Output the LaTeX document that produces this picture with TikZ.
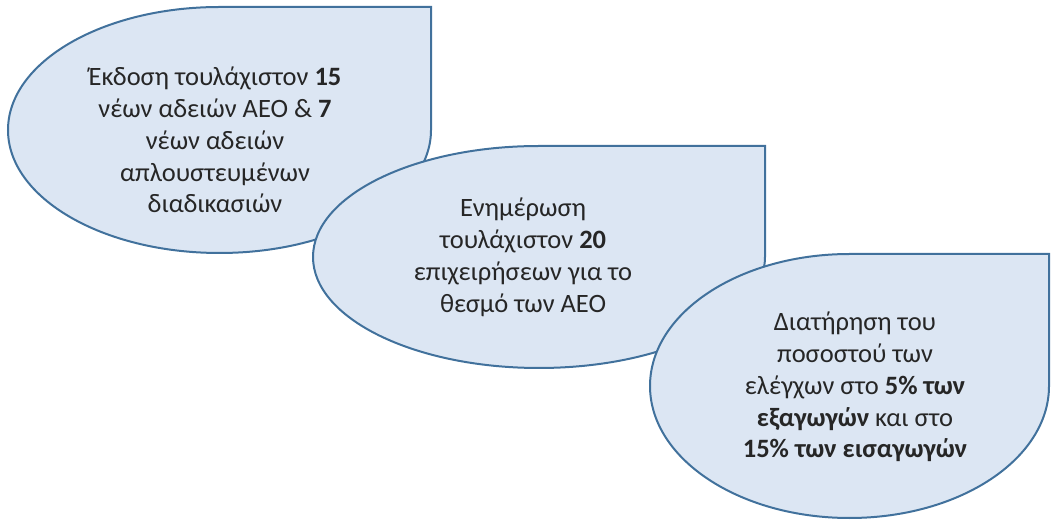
\documentclass[tikz,border=0pt]{standalone}
\usepackage{fontspec}
\setmainfont{Carlito}
\definecolor{tfill}{HTML}{DCE6F3}
\definecolor{tline}{HTML}{41719C}
\definecolor{ttext}{HTML}{262626}
\begin{document}
\begin{tikzpicture}[x=1pt,y=1pt,
  drop/.style={fill=tfill,draw=tline,line width=2pt,line join=miter},
  lbl/.style={align=center,text=ttext,font=\fontsize{26.5}{31.8}\selectfont,inner sep=0pt}]
\useasboundingbox (0,0) rectangle (1051,519);
% shape 1: left 8, right 431, top 7, cy 130
\draw[drop] (219.5,512) -- (431,512) -- (431,389) arc[start angle=0,end angle=-270,x radius=211.5,y radius=123] -- cycle;
% shape 2: left 313, right 765, top 146, cy 257
\draw[drop] (539,373) -- (765,373) -- (765,262) arc[start angle=0,end angle=-270,x radius=226,y radius=111] -- cycle;
% shape 3: left 650, right 1049, top 254, cy 386
\draw[drop] (849.5,265) -- (1049,265) -- (1049,133) arc[start angle=0,end angle=-270,x radius=199.5,y radius=132] -- cycle;
\node[lbl] (t1) at (215,379) {Έκδοση τουλάχιστον \textbf{15}\\νέων αδειών ΑΕΟ \& \textbf{7}\\νέων αδειών\\απλουστευμένων\\διαδικασιών};
\node[lbl] (t2) at (523,261.5) {Ενημέρωση\\τουλάχιστον \textbf{20}\\επιχειρήσεων για το\\θεσμό των ΑΕΟ};
\node[lbl] (t3) at (855,132) {Διατήρηση του\\ποσοστού των\\ελέγχων στο \textbf{5\% των}\\\textbf{εξαγωγών} και στο\\\textbf{15\% των εισαγωγών}};
\end{tikzpicture}
\end{document}
